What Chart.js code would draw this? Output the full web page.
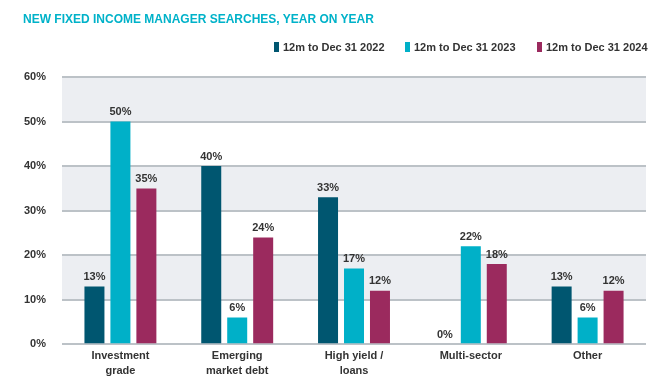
<!DOCTYPE html>
<html><head><meta charset="utf-8">
<script src="https://cdn.jsdelivr.net/npm/chart.js@4.4.1/dist/chart.umd.min.js"></script>
<style>
html,body{margin:0;padding:0;background:#fff}
#wrap{position:relative;width:654px;height:390px;font-family:'Liberation Sans',Arial,sans-serif}
#c{position:absolute;left:0;top:0}
#title{position:absolute;left:23px;top:12px;font-size:12px;font-weight:bold;color:#00b2c9;white-space:nowrap}
.lg{position:absolute;top:41px;font-size:11px;font-weight:bold;color:#333;white-space:nowrap;line-height:13px}
.lg i{display:inline-block;width:5px;height:10px;margin-right:4px;vertical-align:-1px}
</style>
</head><body><div id="wrap"><canvas id="c" width="654" height="390"></canvas>
<div id="title"></div>
<div id="legend"></div></div>
<script>
const categories = [['Investment','grade'], ['Emerging','market debt'], ['High yield /','loans'], ['Multi-sector'], ['Other']];
const series2022 = [13, 40, 33, 0, 13];
const series2023 = [50, 6, 17, 22, 6];
const series2024 = [35, 24, 12, 18, 12];
const seriesNames = ['12m to Dec 31 2022', '12m to Dec 31 2023', '12m to Dec 31 2024'];
const yTicks = [0, 10, 20, 30, 40, 50, 60];
const titleText = 'NEW FIXED INCOME MANAGER SEARCHES, YEAR ON YEAR';

const colors = ['#005670', '#00b0c8', '#9b2a5e'];
const FONT = "'Liberation Sans', Arial, sans-serif";

document.getElementById('title').textContent = titleText;
const legendX = [274, 405, 537];
const lg = document.getElementById('legend');
seriesNames.forEach((n, i) => {
  const d = document.createElement('div');
  d.className = 'lg';
  d.style.left = legendX[i] + 'px';
  const sw = document.createElement('i');
  sw.style.background = colors[i];
  d.appendChild(sw);
  d.appendChild(document.createTextNode(n));
  lg.appendChild(d);
});

const bands = {
  id: 'bands',
  beforeDraw(chart) {
    const {ctx, chartArea, scales: {y}} = chart;
    ctx.save();
    ctx.fillStyle = '#eceef2';
    for (let i = 1; i < yTicks.length - 1; i += 2) {
      const top = y.getPixelForValue(yTicks[i + 1]);
      const bot = y.getPixelForValue(yTicks[i]);
      ctx.fillRect(chartArea.left, top, chartArea.right - chartArea.left, bot - top);
    }
    ctx.restore();
  }
};

const labels = {
  id: 'vlabels',
  afterDatasetsDraw(chart) {
    const {ctx} = chart;
    ctx.save();
    ctx.font = 'bold 11px ' + FONT;
    ctx.fillStyle = '#333333';
    ctx.textAlign = 'center';
    ctx.textBaseline = 'bottom';
    chart.data.datasets.forEach((ds, di) => {
      chart.getDatasetMeta(di).data.forEach((bar, i) => {
        ctx.fillText(ds.data[i] + '%', bar.x, bar.y - 4);
      });
    });
    ctx.restore();
  }
};

new Chart(document.getElementById('c'), {
  type: 'bar',
  data: {
    labels: categories,
    datasets: [
      {label: seriesNames[0], data: series2022, backgroundColor: colors[0]},
      {label: seriesNames[1], data: series2023, backgroundColor: colors[1]},
      {label: seriesNames[2], data: series2024, backgroundColor: colors[2]}
    ]
  },
  options: {
    responsive: false,
    animation: false,
    devicePixelRatio: 1,
    layout: {padding: {left: 8, right: 8, top: 77, bottom: 8}},
    datasets: {bar: {categoryPercentage: 0.667, barPercentage: 0.77}},
    plugins: {
      title: {display: false},
      legend: {display: false},
      tooltip: {enabled: false}
    },
    scales: {
      x: {
        grid: {display: false, drawTicks: false},
        border: {display: false},
        ticks: {color: '#333333', font: {family: FONT, size: 11, weight: 'bold', lineHeight: 1.35}, padding: 4, maxRotation: 0, autoSkip: false}
      },
      y: {
        min: 0, max: 60,
        afterBuildTicks(axis) { axis.ticks = yTicks.map(v => ({value: v})); },
        grid: {color: '#bcc2c7', lineWidth: 2, drawTicks: false},
        border: {display: false},
        ticks: {color: '#333333', padding: 16, font: {family: FONT, size: 11, weight: 'bold'}, callback: v => v + '%'}
      }
    }
  },
  plugins: [bands, labels]
});
</script></body></html>
